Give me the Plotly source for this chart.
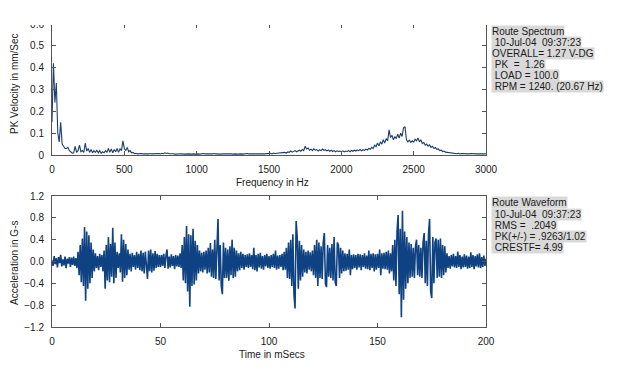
import plotly.graph_objects as go

# ---------------- data ----------------
spec_freq_step = 10  # Hz per spectral line shown
spec_amp = [
    0.15, 0.42, 0.24, 0.33, 0.10, 0.06, 0.15, 0.05, 0.04, 0.03,
    0.03, 0.035, 0.02, 0.012, 0.008, 0.01, 0.04, 0.012, 0.02, 0.045,
    0.015, 0.02, 0.012, 0.055, 0.018, 0.03, 0.012, 0.025, 0.01, 0.02,
    0.012, 0.022, 0.01, 0.02, 0.008, 0.015, 0.01, 0.02, 0.012, 0.03,
    0.012, 0.028, 0.01, 0.025, 0.015, 0.03, 0.012, 0.028, 0.02, 0.065,
    0.03, 0.02, 0.035, 0.015, 0.02, 0.01, 0.012, 0.006, 0.008, 0.005,
    0.006, 0.004, 0.007, 0.005, 0.006, 0.004, 0.006, 0.005, 0.007, 0.005,
    0.006, 0.005, 0.008, 0.006, 0.007, 0.005, 0.008, 0.006, 0.01, 0.007,
    0.009, 0.006, 0.007, 0.005, 0.006, 0.004, 0.005, 0.006, 0.004, 0.005,
    0.006, 0.004, 0.005, 0.006, 0.004, 0.005, 0.004, 0.006, 0.005, 0.004,
    0.006, 0.005, 0.004, 0.006, 0.005, 0.007, 0.005, 0.006, 0.004, 0.005,
    0.006, 0.005, 0.007, 0.005, 0.004, 0.006, 0.005, 0.004, 0.006, 0.005,
    0.004, 0.005, 0.006, 0.004, 0.005, 0.004, 0.006, 0.005, 0.004, 0.005,
    0.006, 0.005, 0.004, 0.006, 0.005, 0.007, 0.005, 0.006, 0.005, 0.007,
    0.006, 0.005, 0.007, 0.006, 0.005, 0.007, 0.006, 0.005, 0.006, 0.007,
    0.006, 0.008, 0.005, 0.009, 0.007, 0.008, 0.006, 0.01, 0.008, 0.009,
    0.01, 0.012, 0.009, 0.014, 0.012, 0.018, 0.013, 0.016, 0.02, 0.015,
    0.018, 0.022, 0.017, 0.025, 0.02, 0.04, 0.028, 0.032, 0.022, 0.027,
    0.02, 0.028, 0.022, 0.025, 0.018, 0.024, 0.02, 0.027, 0.021, 0.024,
    0.019, 0.023, 0.017, 0.022, 0.016, 0.02, 0.015, 0.019, 0.016, 0.018,
    0.015, 0.019, 0.014, 0.018, 0.016, 0.02, 0.015, 0.021, 0.017, 0.022,
    0.018, 0.023, 0.02, 0.025, 0.019, 0.024, 0.021, 0.027, 0.023, 0.03,
    0.026, 0.035, 0.03, 0.045, 0.038, 0.055, 0.042, 0.06, 0.05, 0.07,
    0.055, 0.075, 0.065, 0.115, 0.08, 0.09, 0.07, 0.085, 0.075, 0.095,
    0.078, 0.1, 0.085, 0.125, 0.13, 0.07, 0.06, 0.068, 0.058, 0.065,
    0.06, 0.072, 0.065, 0.078, 0.06, 0.07, 0.052, 0.058, 0.045, 0.05,
    0.04, 0.046, 0.035, 0.04, 0.03, 0.034, 0.026, 0.028, 0.02, 0.022,
    0.016, 0.018, 0.013, 0.012, 0.01, 0.011, 0.008, 0.009, 0.007, 0.008,
    0.006, 0.008, 0.005, 0.007, 0.006, 0.005, 0.007, 0.006, 0.005, 0.007,
    0.006, 0.005, 0.007, 0.006, 0.005, 0.006, 0.005, 0.007, 0.006, 0.005,
    0.006,
]
spec_freq = [i * spec_freq_step for i in range(len(spec_amp))]

wave_step_ms = 0.5
wave_g = [
    0.02, -0.08, 0.10, -0.05, 0.06, -0.11, 0.08, -0.03, 0.12, -0.09, 0.04, -0.07, 0.09, -0.12, 0.05, -0.04, 0.08, -0.10, 0.07, -0.06,
    0.09, -0.08, 0.06, -0.12, 0.18, -0.25, 0.30, -0.38, 0.42, -0.45, 0.63, -0.72, 0.55, -0.50, 0.48, -0.40, 0.35, -0.30, 0.22, -0.18,
    0.15, -0.12, 0.10, -0.16, 0.14, -0.10, 0.12, -0.18, 0.20, -0.50, 0.30, -0.35, 0.45, -0.38, 0.32, -0.28, 0.62, -0.40, 0.35, -0.30,
    0.18, -0.12, 0.15, -0.20, 0.50, -0.37, 0.40, -0.30, 0.32, -0.25, 0.22, -0.15, 0.14, -0.18, 0.16, -0.10, 0.12, -0.15, 0.18, -0.12,
    0.14, -0.16, 0.20, -0.18, 0.16, -0.22, 0.18, -0.14, -0.32, 0.20, -0.18, 0.22, -0.20, 0.15, -0.17, 0.19, -0.12, 0.14, -0.10, 0.12,
    -0.10, 0.12, -0.08, 0.14, -0.12, 0.10, 0.22, -0.13, 0.09, -0.11, 0.13, -0.08, 0.10, -0.14, 0.12, -0.09, 0.11, -0.10, 0.15, -0.12,
    0.30, -0.35, 0.45, -0.40, 0.65, -0.55, 0.50, -0.83, 0.48, -0.45, 0.60, -0.42, 0.38, -0.35, 0.30, -0.22, 0.20, -0.18, 0.16, -0.20,
    0.18, -0.15, 0.20, -0.22, 0.25, -0.20, 0.34, -0.28, 0.22, -0.30, 0.40, -0.32, 0.28, 0.78, -0.35, 0.30, -0.45, -0.60, 0.35, -0.30,
    0.25, -0.30, 0.22, -0.35, 0.28, -0.25, 0.40, -0.30, 0.25, -0.28, 0.20, -0.18, 0.15, -0.16, 0.18, -0.12, 0.14, -0.15, 0.12, -0.10,
    0.13, -0.12, 0.15, -0.10, 0.12, -0.14, 0.25, -0.16, 0.12, -0.18, 0.14, -0.11, 0.16, -0.13, 0.10, -0.15, 0.12, -0.09, 0.14, -0.12,
    0.10, -0.13, 0.12, -0.10, 0.14, -0.12, 0.20, -0.15, 0.11, -0.13, 0.12, -0.10, 0.14, -0.16, 0.18, -0.15, 0.25, -0.30, 0.35, -0.32,
    0.40, -0.45, 0.50, -0.60, -0.86, 0.74, 0.45, -0.50, 0.38, -0.35, 0.30, -0.28, 0.22, -0.20, 0.18, -0.22, 0.20, -0.15, 0.17, -0.18,
    0.20, -0.25, 0.30, -0.30, 0.40, -0.45, 0.35, -0.30, 0.28, -0.32, 0.35, 0.52, -0.40, -0.47, 0.30, -0.28, 0.25, -0.30, 0.32, -0.35,
    0.45, -0.38, -0.45, 0.35, 0.30, -0.30, 0.25, -0.22, 0.20, -0.18, 0.15, -0.17, 0.14, -0.15, 0.22, -0.25, 0.12, -0.14, 0.13, -0.12,
    0.12, -0.15, 0.14, -0.11, 0.13, -0.16, 0.12, -0.10, 0.15, -0.13, 0.11, -0.14, 0.20, -0.16, 0.14, -0.12, 0.15, -0.18, 0.13, -0.15,
    0.14, -0.12, 0.22, -0.25, 0.15, -0.13, 0.16, -0.14, 0.18, -0.15, 0.20, -0.22, 0.15, -0.18, 0.30, -0.35, 0.40, -0.45, 0.55, 0.85,
    -0.60, 0.60, -1.02, 0.93, -0.70, 0.55, -0.50, 0.45, -0.40, 0.35, -0.30, 0.32, -0.28, 0.25, -0.30, 0.28, 0.40, -0.25, 0.30, -0.28,
    0.25, -0.30, 0.35, 0.52, -0.40, 0.38, -0.45, 0.50, 0.78, -0.55, -0.67, 0.45, -0.40, 0.35, 0.42, -0.30, 0.40, -0.28, 0.42, -0.30,
    0.30, -0.25, 0.28, -0.20, 0.15, -0.12, 0.10, -0.13, 0.12, -0.09, 0.14, -0.11, 0.10, -0.12, 0.18, -0.10, 0.12, -0.14, 0.09, -0.11,
    0.13, -0.10, 0.11, -0.13, 0.09, -0.12, 0.17, -0.10, 0.12, -0.14, 0.10, -0.09, 0.13, -0.11, 0.15, -0.12, 0.08, -0.10, 0.11, -0.08,
    0.05,
]
wave_t = [i * wave_step_ms for i in range(len(wave_g))]

spec_xticks = [0, 500, 1000, 1500, 2000, 2500, 3000]
spec_yticks = [0, 0.1, 0.2, 0.3, 0.4, 0.5, 0.6]
wave_xticks = [0, 50, 100, 150, 200]
wave_yticks = [-1.2, -0.8, -0.4, 0.0, 0.4, 0.8, 1.2]

spec_info = ["Route Spectrum", " 10-Jul-04  09:37:23", "OVERALL= 1.27 V-DG",
             " PK  =  1.26", " LOAD = 100.0", " RPM = 1240. (20.67 Hz)"]
wave_info = ["Route Waveform", " 10-Jul-04  09:37:23", " RMS =  .2049",
             " PK(+/-) = .9263/1.02", " CRESTF= 4.99"]

# ---------------- figure ----------------
# the page body has an 8px margin, so the figure starts at (8, 8) in the window
OFF = 8
W, H = 610, 358
def fx(p):
    return (p - OFF) / W
def fy(p):
    return 1 - (p - OFF) / H

FONT = "Arial, Liberation Sans, sans-serif"
AX = "#555555"
TXT = "#1a1a1a"

fig = go.Figure()
fig.add_trace(go.Scatter(x=spec_freq, y=spec_amp, mode="lines",
                         line=dict(color="#1c3d6e", width=1.1), xaxis="x", yaxis="y",
                         showlegend=False, hoverinfo="skip"))
fig.add_trace(go.Scatter(x=wave_t, y=wave_g, mode="lines",
                         line=dict(color="#0f4282", width=1.6), xaxis="x2", yaxis="y2",
                         showlegend=False, hoverinfo="skip"))

axis_common = dict(showline=True, linecolor=AX, linewidth=1, ticks="inside", ticklen=4,
                   tickcolor=AX, mirror="ticks", showgrid=False, zeroline=False,
                   tickfont=dict(family=FONT, size=10, color=TXT), automargin=False)

xd = [fx(52), fx(486)]
fig.update_layout(
    width=W, height=H, margin=dict(l=0, r=0, t=0, b=0),
    paper_bgcolor="white", plot_bgcolor="white",
    font=dict(family=FONT, size=10, color=TXT),
    xaxis=dict(domain=xd, range=[0, 3000], tickvals=spec_xticks, anchor="y",
               ticklabelstandoff=5, **axis_common),
    yaxis=dict(domain=[fy(155), fy(24)], range=[0, 0.6], tickvals=spec_yticks, anchor="x",
               ticklabelstandoff=5, **axis_common),
    xaxis2=dict(domain=xd, range=[0, 200], tickvals=wave_xticks, anchor="y2",
                ticklabelstandoff=5, **axis_common),
    yaxis2=dict(domain=[fy(327), fy(196)], range=[-1.2, 1.2], tickvals=wave_yticks,
                tickformat=".1f", anchor="x2", ticklabelstandoff=5, **axis_common),
)

ann = []
def title_ann(text, x, y, angle=0):
    return dict(text=text, x=fx(x), y=fy(y), xref="paper", yref="paper",
                xanchor="center", yanchor="middle", showarrow=False, textangle=angle,
                font=dict(size=10, color=TXT))

ann.append(title_ann("Frequency in Hz", 272, 182))
ann.append(title_ann("Time in mSecs", 272, 354))
ann.append(title_ann("PK Velocity in mm/Sec", 14, 84, -90))
ann.append(title_ann("Acceleration in G-s", 14, 263, -90))

for i, line in enumerate(spec_info):
    ann.append(dict(text=line.replace(" ", "\u00a0"), x=fx(491), y=fy(31 + i * 11.2),
                    xref="paper", yref="paper", xanchor="left", yanchor="middle",
                    showarrow=False, bgcolor="#d9d9d9", borderpad=0,
                    font=dict(size=10, color=TXT)))
for i, line in enumerate(wave_info):
    ann.append(dict(text=line.replace(" ", "\u00a0"), x=fx(491), y=fy(203 + i * 11),
                    xref="paper", yref="paper", xanchor="left", yanchor="middle",
                    showarrow=False, bgcolor="#d9d9d9", borderpad=0,
                    font=dict(size=10, color=TXT)))
fig.update_layout(annotations=ann)

# the reference image is cropped just at the top edge of the spectrum frame
fig.add_shape(type="rect", xref="paper", yref="paper", x0=fx(26), x1=fx(489),
              y0=fy(25), y1=1.0, fillcolor="white", line=dict(width=0), layer="above")

fig.write_html("out.html")
